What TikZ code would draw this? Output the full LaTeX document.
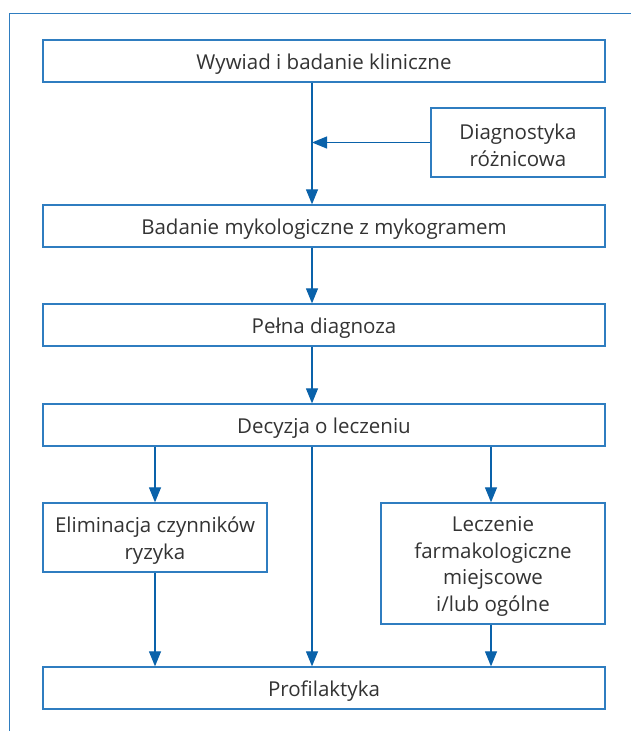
\documentclass[tikz,border=0pt]{standalone}
\usepackage{fontspec}
\setmainfont{Open Sans}
\usetikzlibrary{arrows.meta}
\definecolor{boxblue}{HTML}{2F7DC0}
\definecolor{arrblue}{HTML}{0A62AA}
\definecolor{txt}{HTML}{333333}
\tikzset{
  tstyle/.style={text=txt, align=center, inner sep=0pt, yshift=-3pt,
    font=\fontsize{20.5}{26.7}\selectfont},
  box/.style={draw=boxblue, line width=1.3pt, fill=white, inner sep=0pt,
    label={[tstyle]center:#1}},
  wide/.style={box=#1, minimum width=562pt, minimum height=42pt},
  arr/.style={draw=arrblue, line width=1.2pt, -{Triangle[width=12pt,length=15pt]}, arrblue},
  frameline/.style={draw=boxblue, line width=1.3pt}
}
\begin{document}
\begin{tikzpicture}[x=1pt,y=-1pt]
\useasboundingbox (0,0) rectangle (631,731);
\coordinate (f1) at (9.5,731);
\coordinate (f2) at (9.5,13.5);
\coordinate (f3) at (631,13.5);
\draw[frameline] (f1) -- (f2) -- (f3);
\coordinate (cm) at (312,0);
\coordinate (cl) at (155,0);
\coordinate (cr) at (491,0);
\node[wide={Wywiad i badanie kliniczne}] (b1) at (324,61) {};
\node[box={Diagnostyka\\różnicowa}, minimum width=174pt, minimum height=69pt] (d) at (518,142.5) {};
\node[wide={Badanie mykologiczne z mykogramem}] (b2) at (324,226) {};
\node[wide={Pełna diagnoza}] (b3) at (324,325) {};
\node[wide={Decyzja o leczeniu}] (b4) at (324,425) {};
\node[box={Eliminacja czynników\\ryzyka}, minimum width=224pt, minimum height=69pt] (e) at (155,537.5) {};
\node[box={Leczenie\\farmakologiczne\\miejscowe\\i/lub ogólne}, minimum width=224pt, minimum height=121pt] (l) at (493,563.5) {};
\node[wide={Profilaktyka}] (p) at (324,688) {};
\draw[arr] (b1.south -| cm) -- (b2.north -| cm);
\draw[arr] (d.west) -- (d.west -| cm);
\draw[arr] (b2.south -| cm) -- (b3.north -| cm);
\draw[arr] (b3.south -| cm) -- (b4.north -| cm);
\draw[arr] (b4.south -| cm) -- (p.north -| cm);
\draw[arr] (b4.south -| cl) -- (e.north -| cl);
\draw[arr] (e.south -| cl) -- (p.north -| cl);
\draw[arr] (b4.south -| cr) -- (l.north -| cr);
\draw[arr] (l.south -| cr) -- (p.north -| cr);
\end{tikzpicture}
\end{document}
